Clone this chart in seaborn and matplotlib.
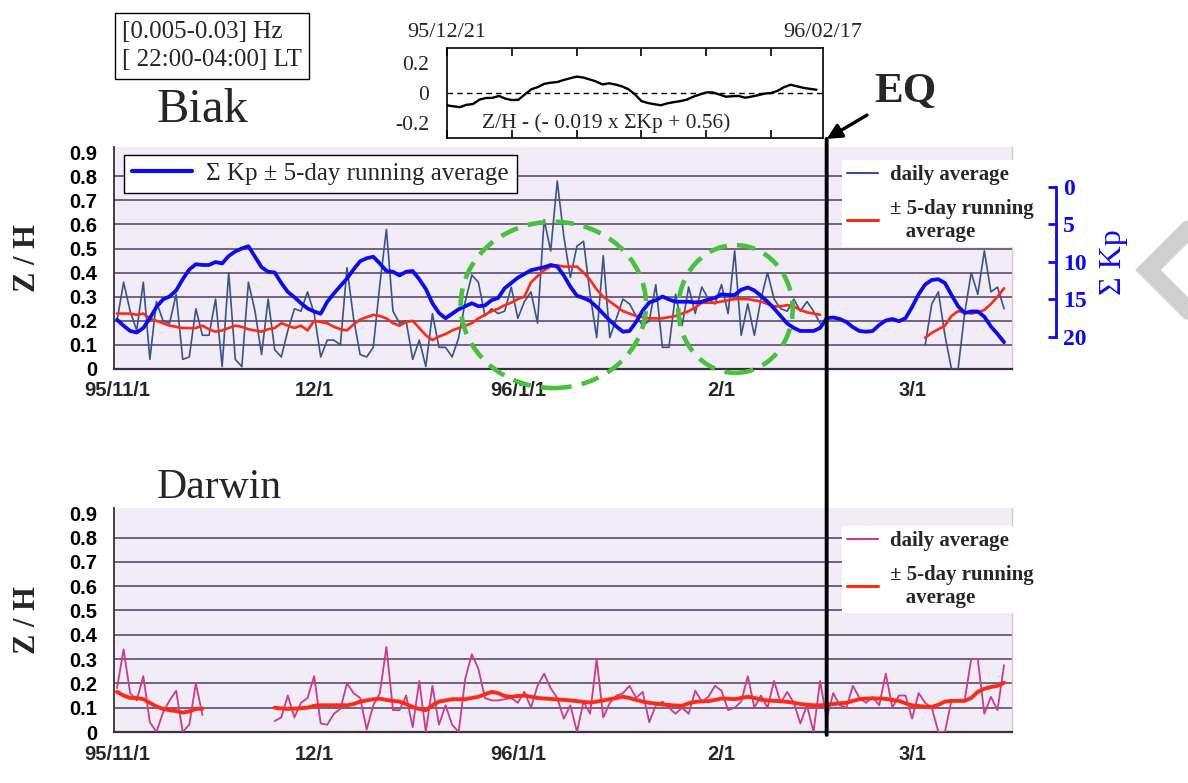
import numpy as np
import pandas as pd
import matplotlib
matplotlib.use("Agg")
import matplotlib.pyplot as plt
import matplotlib.dates as mdates
from matplotlib.patches import Ellipse, ConnectionPatch
from matplotlib.lines import Line2D
from matplotlib.font_manager import FontProperties
import seaborn as sns

# ---------------- data ----------------
start_date = "1995-11-01"

biak_daily = [
    0.20, 0.36, 0.24, 0.16, 0.36, 0.04, 0.28, 0.20, 0.19, 0.31,
    0.04, 0.05, 0.25, 0.14, 0.14, 0.29, 0.01, 0.40, 0.04, 0.01,
    0.36, 0.24, 0.06, 0.29, 0.08, 0.05, 0.16, 0.25, 0.24, 0.32,
    0.23, 0.05, 0.12, 0.12, 0.10, 0.42, 0.21, 0.06, 0.05, 0.09,
    0.35, 0.58, 0.24, 0.19, 0.20, 0.04, 0.12, 0.01, 0.23, 0.09,
    0.09, 0.05, 0.13, 0.28, 0.39, 0.36, 0.22, 0.25, 0.23, 0.24,
    0.34, 0.21, 0.28, 0.32, 0.19, 0.62, 0.49, 0.78, 0.55, 0.38,
    0.51, 0.53, 0.31, 0.13, 0.47, 0.13, 0.21, 0.29, 0.27, 0.22,
    0.18, 0.20, 0.35, 0.09, 0.09, 0.31, 0.18, 0.34, 0.23, 0.34,
    0.29, 0.27, 0.35, 0.23, 0.49, 0.14, 0.27, 0.14, 0.29, 0.40,
    0.29, 0.25, 0.24, 0.29, 0.24, 0.28, 0.24, 0.19,
    None, None, None, None, None, None, None, None, None, None,
    None, None, None, None, None,
    0.10, 0.27, 0.32, 0.14, 0.00, 0.00, 0.23, 0.40, 0.31, 0.49,
    0.32, 0.34, 0.25,
]

biak_running = [
    0.23, 0.23, 0.23, 0.225, 0.23, 0.21, 0.20, 0.19, 0.18, 0.175,
    0.17, 0.17, 0.17, 0.18, 0.165, 0.155, 0.16, 0.17, 0.18, 0.175,
    0.165, 0.16, 0.155, 0.165, 0.17, 0.19, 0.18, 0.17, 0.18, 0.16,
    0.20, 0.195, 0.19, 0.175, 0.165, 0.16, 0.185, 0.205, 0.215, 0.225,
    0.22, 0.21, 0.19, 0.18, 0.195, 0.20, 0.17, 0.14, 0.12, 0.135,
    0.145, 0.16, 0.17, 0.18, 0.19, 0.21, 0.225, 0.24, 0.25, 0.265,
    0.275, 0.29, 0.30, 0.36, 0.385, 0.41, 0.425, 0.43, 0.425, 0.425,
    0.425, 0.40, 0.37, 0.33, 0.30, 0.28, 0.26, 0.24, 0.23, 0.22,
    0.215, 0.21, 0.21, 0.21, 0.215, 0.22, 0.23, 0.24, 0.255, 0.275,
    0.275, 0.275, 0.28, 0.285, 0.29, 0.29, 0.29, 0.285, 0.28, 0.27,
    0.26, 0.26, 0.265, 0.26, 0.245, 0.235, 0.23, 0.225,
    None, None, None, None, None, None, None, None, None, None,
    None, None, None, None, None,
    0.13, 0.15, 0.165, 0.18, 0.22, 0.24, 0.235, 0.23, 0.235, 0.245,
    0.27, 0.30, 0.335,
]

kp_running = [
    17.7, 18.5, 19.2, 19.4, 18.8, 17.5, 16.0, 15.0, 14.6, 13.8,
    12.3, 11.0, 10.3, 10.4, 10.4, 10.0, 10.2, 9.2, 8.6, 8.2,
    7.9, 9.3, 10.7, 11.3, 11.4, 12.8, 14.0, 14.7, 15.5, 16.2,
    16.6, 16.9, 15.3, 14.2, 13.2, 12.2, 11.0, 9.9, 9.5, 9.3,
    10.2, 11.2, 11.3, 11.8, 11.3, 11.2, 12.3, 13.6, 15.5, 16.8,
    17.5, 16.9, 16.3, 15.9, 15.5, 15.9, 15.8, 15.1, 14.8, 13.5,
    12.8, 12.1, 11.6, 11.1, 10.9, 10.7, 10.4, 10.6, 11.8, 13.3,
    14.5, 14.8, 15.2, 16.0, 16.9, 17.8, 18.6, 19.3, 19.2, 18.0,
    16.5, 15.4, 15.1, 14.6, 15.0, 15.3, 15.3, 15.3, 15.4, 15.3,
    15.0, 14.8, 14.3, 14.4, 14.4, 13.7, 13.4, 13.8, 14.5, 15.3,
    16.2, 17.2, 18.2, 18.8, 19.2, 19.2, 19.2, 18.8, 17.5, 17.4,
    17.6, 18.0, 18.7, 19.2, 19.3, 19.2, 18.4, 17.8, 17.6, 17.9,
    17.5, 16.0, 14.3, 13.0, 12.4, 12.3, 12.8, 14.4, 15.9, 16.8,
    16.6, 16.6, 17.3, 18.6, 19.6, 20.7,
]

darwin_daily = [
    0.18, 0.34, 0.16, 0.13, 0.23, 0.04, 0.00, 0.08, 0.13, 0.17,
    0.00, 0.03, 0.20, 0.07,
    None, None, None, None, None, None, None, None, None, None,
    0.045, 0.06, 0.15, 0.06, 0.12, 0.14, 0.23, 0.035, 0.03, 0.075,
    0.095, 0.20, 0.16, 0.14, 0.01, 0.11, 0.16, 0.35,
    0.09, 0.09, 0.15, 0.02, 0.21, 0.00, 0.19, 0.03, 0.11, 0.03,
    0.00, 0.22, 0.32, 0.26, 0.14, 0.13, 0.13, 0.135, 0.14, 0.12,
    0.165, 0.10, 0.19, 0.24, 0.18, 0.14, 0.055, 0.11, 0.00, 0.125,
    0.075, 0.30, 0.06, 0.12, 0.15, 0.16, 0.19, 0.14, 0.165, 0.04,
    0.11, 0.125, 0.10, 0.075, 0.10, 0.075, 0.17, 0.125, 0.145, 0.19,
    0.17, 0.09, 0.10, 0.125, 0.23, 0.10, 0.15, 0.10, 0.21, 0.12,
    0.165, 0.12, 0.035, 0.11, 0.00, 0.21, 0.055, 0.16, 0.11, 0.10,
    0.19, 0.14, 0.12, 0.145, 0.11, 0.24, 0.10, 0.15, 0.15, 0.055,
    0.16, 0.12, 0.10, 0.00, 0.00, 0.13, 0.13, 0.13, 0.30, 0.30,
    0.075, 0.145, 0.09, 0.275,
]

darwin_running = [
    0.165, 0.15, 0.14, 0.14, 0.135, 0.12, 0.105, 0.095, 0.09, 0.086,
    0.08, 0.085, 0.095, 0.096,
    None, None, None, None, None, None, None, None, None, None,
    0.10, 0.097, 0.095, 0.096, 0.098, 0.10, 0.108, 0.11, 0.11, 0.11,
    0.11, 0.11, 0.115, 0.125, 0.13, 0.135, 0.137, 0.132, 0.128, 0.125,
    0.115, 0.103, 0.095, 0.09, 0.11, 0.125, 0.13, 0.135, 0.135, 0.135,
    0.14, 0.145, 0.155, 0.165, 0.16, 0.148, 0.145, 0.148, 0.15, 0.145,
    0.14, 0.138, 0.136, 0.134, 0.132, 0.13, 0.127, 0.124, 0.121, 0.125,
    0.13, 0.135, 0.14, 0.145, 0.14, 0.132, 0.125, 0.12, 0.117, 0.113,
    0.111, 0.109, 0.108, 0.118, 0.124, 0.126, 0.127, 0.132, 0.138, 0.137,
    0.135, 0.14, 0.145, 0.14, 0.133, 0.13, 0.128, 0.127, 0.124, 0.12,
    0.115, 0.112, 0.11, 0.11, 0.112, 0.115, 0.118, 0.12, 0.128, 0.135,
    0.138, 0.138, 0.138, 0.136, 0.132, 0.128, 0.118, 0.11, 0.107, 0.104,
    0.103, 0.112, 0.125, 0.128, 0.128, 0.128, 0.14, 0.165, 0.178, 0.185,
    0.19, 0.203,
]

inset_start = "1995-12-21"
inset_end = "1996-02-17"
inset_residual = [
    -0.084, -0.09, -0.096, -0.08, -0.075, -0.045, -0.034, -0.033, -0.02, -0.038,
    -0.048, -0.046, -0.01, 0.025, 0.04, 0.062, 0.07, 0.074, 0.088, 0.10,
    0.111, 0.105, 0.092, 0.078, 0.058, 0.066, 0.057, 0.045, 0.025, -0.01,
    -0.055, -0.068, -0.076, -0.083, -0.07, -0.062, -0.055, -0.045, -0.025, -0.01,
    0.004, 0.004, -0.01, -0.025, -0.022, -0.02, -0.032, -0.024, -0.015, -0.004,
    0.0, 0.015, 0.04, 0.056, 0.045, 0.035, 0.028, 0.022,
]

eq_date = "1996-02-17"
month_ticks = ["1995-11-01", "1995-12-01", "1996-01-01", "1996-02-01", "1996-03-01"]
month_labels = ["95/11/1", "12/1", "96/1/1", "2/1", "3/1"]
zh_ticks = [0.0, 0.1, 0.2, 0.3, 0.4, 0.5, 0.6, 0.7, 0.8, 0.9]
kp_ticks = [0, 5, 10, 15, 20]
inset_yticks = [-0.2, 0.0, 0.2]
inset_ylabels = ["-0.2", "0", "0.2"]
# highlighted intervals: (centre date, centre Z/H, width in days, height in Z/H)
highlight_ellipses = [("1996-01-06 10:00", 0.266, 28.2, 0.69),
                      ("1996-02-03 03:00", 0.249, 17.4, 0.53)]

# ---------------- styling ----------------
sns.set_theme(style="white")
plt.rcParams['font.family'] = ['Liberation Serif', 'DejaVu Serif']

W, H = 1188, 783
BG = '#f1ecf5'
GRID = '#5e4b6c'
AXIS_C = '#3b2d45'
BIAK_DAILY_C = '#37548f'
RED_C = '#ff2a14'
DARWIN_DAILY_C = '#cc3a8e'
KP_C = '#0a0af5'
GREEN_C = '#46c23c'

sans_bold = dict(fontfamily='Liberation Sans', fontweight='bold', fontsize=14.5)

fig = plt.figure(figsize=(W / 100, H / 100), dpi=100)
fig.patch.set_facecolor('white')

ax_b = fig.add_axes([114 / W, 1 - 369 / H, 898 / W, 221.7 / H])
ax_d = fig.add_axes([114 / W, 1 - 732 / H, 898 / W, 223.6 / H])
ax_in = fig.add_axes([447 / W, 1 - 138 / H, 376 / W, 90 / H])

dates = pd.date_range(start_date, periods=len(kp_running), freq="D")
xmin = pd.Timestamp(start_date) - pd.Timedelta(hours=11)
xmax = dates[-1] + pd.Timedelta(hours=29)


def segmented(values):
    s = pd.Series(values, dtype=float)
    df = pd.DataFrame({"date": dates, "value": s})
    df["seg"] = s.isna().cumsum()
    return df.dropna()


def draw(ax, values, color, lw):
    sns.lineplot(data=segmented(values), x="date", y="value", units="seg",
                 estimator=None, color=color, linewidth=lw, ax=ax,
                 legend=False, zorder=3)


draw(ax_b, biak_daily, BIAK_DAILY_C, 1.2)
draw(ax_b, biak_running, RED_C, 1.9)
draw(ax_d, darwin_daily, DARWIN_DAILY_C, 1.3)
draw(ax_d, darwin_running, RED_C, 2.8)

ax_k = ax_b.twinx()
draw(ax_k, kp_running, KP_C, 2.7)

tick_nums = mdates.date2num(pd.to_datetime(month_ticks))


def style_panel(ax):
    ax.set_facecolor(BG)
    ax.set_xlim(xmin, xmax)
    ax.set_ylim(0, 0.92)
    for t in zh_ticks[1:-1]:
        ax.axhline(t, color=GRID, lw=1.2, zorder=1)
    ax.set_yticks(zh_ticks, [f"{t:g}" for t in zh_ticks], **sans_bold)
    ax.set_xticks(tick_nums, month_labels, **sans_bold)
    ax.xaxis.set_minor_locator(mdates.DayLocator(bymonthday=[11, 21]))
    ax.tick_params(axis='y', length=0, pad=12, colors='black')
    ax.tick_params(axis='x', which='major', direction='inout', length=16,
                   width=1.5, color=AXIS_C, pad=1)
    ax.tick_params(axis='x', which='minor', direction='in', length=6,
                   width=1.5, color=AXIS_C)
    ax.spines['top'].set_visible(False)
    ax.spines['right'].set_color('#dcc2dc')
    ax.spines['right'].set_linewidth(1)
    ax.spines['left'].set_color(AXIS_C)
    ax.spines['left'].set_linewidth(1.3)
    ax.spines['bottom'].set_color(AXIS_C)
    ax.spines['bottom'].set_linewidth(1.6)
    ax.set_xlabel("")
    ax.set_ylabel("Z / H", fontsize=22, fontweight='bold')
    ax.yaxis.set_label_coords(-0.08, 0.5)


style_panel(ax_b)
style_panel(ax_d)

# Sigma Kp axis (inverted)
ax_k.set_xlim(xmin, xmax)
ax_k.set_ylim(24.27, -5.29)
for side in ['left', 'top', 'bottom']:
    ax_k.spines[side].set_visible(False)
ax_k.spines['right'].set_position(('outward', 32))
ax_k.spines['right'].set_bounds(0, 20)
ax_k.spines['right'].set_color(KP_C)
ax_k.spines['right'].set_linewidth(2)
ax_k.set_yticks(kp_ticks, [str(k) for k in kp_ticks], fontsize=17,
                fontweight='bold', color=KP_C)
ax_k.tick_params(axis='y', direction='in', length=6, width=2, color=KP_C, pad=5)
ax_k.set_xlabel("")
ax_k.set_ylabel("Σ Kp", fontsize=23, color=KP_C)
ax_k.yaxis.set_label_coords(1.097, 0.483)

# highlighted ellipses
for c_date, c_val, w_days, h_val in highlight_ellipses:
    e = Ellipse((mdates.date2num(pd.Timestamp(c_date)), c_val), w_days, h_val,
                transform=ax_b.transData, fill=False, edgecolor=GREEN_C,
                lw=3.3, linestyle=(0, (4, 2.2)), clip_on=False, zorder=6)
    ax_k.add_artist(e)

# legends
leg_kp = ax_k.legend(handles=[Line2D([0], [0], color=KP_C, lw=3)],
                     labels=["Σ Kp ± 5-day running average"],
                     loc='upper left', bbox_to_anchor=(124 / W, 1 - 155 / H),
                     bbox_transform=fig.transFigure, borderaxespad=0,
                     prop=FontProperties(family='Liberation Serif', size=18),
                     frameon=True, fancybox=False, edgecolor='black',
                     facecolor='white', framealpha=1, handlelength=2.4,
                     borderpad=0.3, handletextpad=0.6)
leg_kp.get_frame().set_linewidth(1.0)

bold_serif = FontProperties(family='Liberation Serif', weight='bold', size=15)
for color, lw, top_px in [(BIAK_DAILY_C, 1.5, 160), (DARWIN_DAILY_C, 1.5, 526)]:
    fig.legend(handles=[Line2D([0], [0], color=color, lw=lw),
                        Line2D([0], [0], color=RED_C, lw=2.2)],
               labels=["daily average", "± 5-day running\n   average"],
               loc='upper left', bbox_to_anchor=(842 / W, 1 - top_px / H),
               bbox_transform=fig.transFigure, borderaxespad=0, prop=bold_serif,
               frameon=True, fancybox=False, edgecolor='none', facecolor='white',
               framealpha=1, handlelength=1.5, handletextpad=0.55,
               borderpad=0.25, labelspacing=0.65)

# inset: residual
inset_dates = pd.date_range(inset_start, periods=len(inset_residual), freq="D")
sns.lineplot(x=inset_dates, y=inset_residual, ax=ax_in, color='black', linewidth=1.7)
ax_in.axhline(0, color='black', lw=1.0, ls=(0, (4, 3)))
ax_in.set_xlim(pd.Timestamp(inset_start), pd.Timestamp(inset_end))
ax_in.set_ylim(-0.305, 0.305)
ax_in.set_facecolor('white')
ax_in.set_xticks(mdates.date2num(pd.date_range(inset_start, inset_end, freq="10D")))
ax_in.tick_params(axis='x', direction='in', top=True, bottom=True, length=6,
                  width=1.2, color='black', labelbottom=False)
ax_in.set_yticks(inset_yticks, inset_ylabels, fontsize=15.5)
ax_in.tick_params(axis='y', direction='in', length=6, width=1.2, color='black', pad=13)
for sp in ax_in.spines.values():
    sp.set_color('black')
    sp.set_linewidth(1.2)
ax_in.set_xlabel("")
ax_in.set_ylabel("")
ax_in.text(0, 1.17, pd.Timestamp(inset_start).strftime("%y/%m/%d"),
           transform=ax_in.transAxes, ha='center', va='center', fontsize=16)
ax_in.text(1, 1.17, pd.Timestamp(inset_end).strftime("%y/%m/%d"),
           transform=ax_in.transAxes, ha='center', va='center', fontsize=16)
ax_in.text(0.423, 0.167, "Z/H - (- 0.019 x ΣKp + 0.56)", transform=ax_in.transAxes,
           ha='center', va='center', fontsize=15.5)

# EQ marker line spanning both panels
eq_num = mdates.date2num(pd.Timestamp(eq_date))
con = ConnectionPatch(xyA=(eq_num, 0.955), coordsA=ax_b.transData,
                      xyB=(eq_num, -0.012), coordsB=ax_d.transData,
                      color='black', lw=2.8, zorder=10)
fig.add_artist(con)
ax_b.annotate("EQ", xy=(eq_num, 0.955), xycoords='data',
              xytext=(905 / W, 1 - 92 / H), textcoords='figure fraction',
              ha='center', va='center', fontsize=31, fontweight='bold',
              arrowprops=dict(arrowstyle='-|>', color='black', lw=2.4,
                              mutation_scale=22, shrinkA=3, shrinkB=0,
                              relpos=(0.0, 0.0)),
              annotation_clip=False)

# titles and annotation box
fig.text(122 / W, 1 - 46 / H, "[0.005-0.03] Hz\n[ 22:00-04:00] LT", ha='left',
         va='center', fontsize=18, linespacing=1.4,
         bbox=dict(boxstyle='square,pad=0.3', fc='white', ec='black', lw=1))
fig.text(157 / W, 1 - 122 / H, "Biak", ha='left', va='baseline', fontsize=35)
fig.text(157 / W, 1 - 498 / H, "Darwin", ha='left', va='baseline', fontsize=30)

# grey chevron at right edge
fig.add_artist(Line2D([1194 / W, 1148 / W, 1194 / W],
                      [1 - 224 / H, 1 - 270 / H, 1 - 316 / H],
                      transform=fig.transFigure, color='#cfcfcf', lw=13,
                      solid_joinstyle='miter'))

fig.savefig("out.png", dpi=100, facecolor='white')
